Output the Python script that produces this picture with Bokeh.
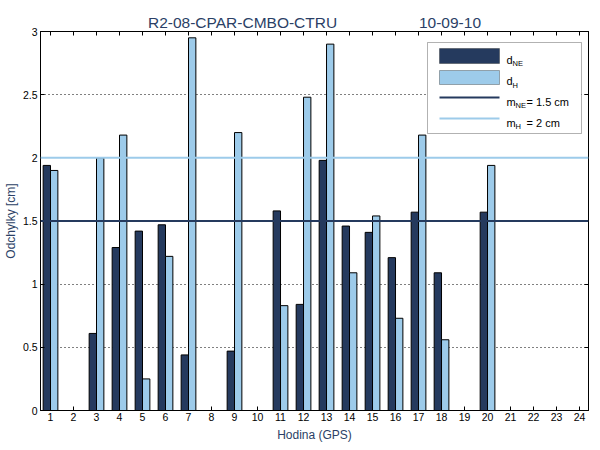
import numpy as np
from bokeh.plotting import figure
from bokeh.models import (ColumnDataSource, FixedTicker, LinearAxis, Span, Label,
                          BoxAnnotation, Range1d)
from bokeh.transform import dodge
from bokeh.embed import file_html
from bokeh.resources import INLINE

nan = float("nan")

# ---- data ----
hours = list(range(1, 25))
d_ne = [1.94, nan, 0.61, 1.29, 1.42, 1.47, 0.44, nan, 0.47, nan, 1.58, 0.84,
        1.98, 1.46, 1.41, 1.21, 1.57, 1.09, nan, 1.57, nan, nan, nan, nan]
d_h = [1.90, nan, 2.00, 2.18, 0.25, 1.22, 2.95, nan, 2.20, nan, 0.83, 2.48,
       2.90, 1.09, 1.54, 0.73, 2.18, 0.56, nan, 1.94, nan, nan, nan, nan]
m_ne = 1.5
m_h = 2.0
y_ticks = [0, 0.5, 1, 1.5, 2, 2.5, 3]
y_tick_labels = ["0", "0.5", "1", "1.5", "2", "2.5", "3"]
x_tick_labels = [str(h) for h in hours]
title_left = "R2-08-CPAR-CMBO-CTRU"
title_right = "10-09-10"
x_label = "Hodina (GPS)"
y_label = "Odchylky [cm]"

# ---- styles ----
DARK = "#253A5E"
LIGHT = "#9DCBEA"
TEXT_BLUE = "#2B3F66"
FONT = "Liberation Sans"
NBSP = "\u00a0"

src = ColumnDataSource(dict(hour=hours, d_ne=d_ne, d_h=d_h))

p = figure(frame_width=548, frame_height=379,
           x_range=Range1d(0.565, 24.39), y_range=Range1d(0, 3),
           output_backend="svg", toolbar_location=None,
           min_border_left=40, min_border_right=12,
           min_border_top=31, min_border_bottom=40)

p.background_fill_color = "white"
p.border_fill_color = "white"
p.outline_line_color = "black"
p.outline_line_width = 1

# title
p.title.text = title_left + NBSP * 19 + title_right
p.title.align = "center"
p.title.text_font = FONT
p.title.text_font_size = "15.5px"
p.title.text_font_style = "normal"
p.title.text_color = TEXT_BLUE
p.title.standoff = 2

bw = 0.32
p.vbar(x=dodge("hour", -bw / 2, range=p.x_range), top="d_ne", width=bw,
       source=src, fill_color=DARK, line_color="black", line_width=1)
p.vbar(x=dodge("hour", bw / 2, range=p.x_range), top="d_h", width=bw,
       source=src, fill_color=LIGHT, line_color="black", line_width=1)

p.add_layout(Span(location=m_ne, dimension="width", line_color=DARK, line_width=2))
p.add_layout(Span(location=m_h, dimension="width", line_color=LIGHT, line_width=2))

# grid
p.xgrid.grid_line_color = None
p.ygrid.ticker = FixedTicker(ticks=y_ticks)
p.ygrid.grid_line_color = "black"
p.ygrid.grid_line_dash = "1 3"
p.ygrid.grid_line_width = 1

def style_axis(ax):
    ax.major_tick_in = 4
    ax.major_tick_out = 0
    ax.minor_tick_line_color = None
    ax.axis_line_color = "black"
    ax.major_label_text_font = FONT
    ax.major_label_text_font_size = "10.5px"
    ax.major_label_text_color = "black"
    ax.axis_label_text_font = FONT
    ax.axis_label_text_font_size = "12px"
    ax.axis_label_text_font_style = "normal"
    ax.axis_label_text_color = TEXT_BLUE

xa = p.xaxis[0]
style_axis(xa)
xa.ticker = FixedTicker(ticks=hours)
xa.major_label_overrides = {h: s for h, s in zip(hours, x_tick_labels)}
xa.axis_label = x_label
xa.major_label_standoff = 2
xa.axis_label_standoff = 4

ya = p.yaxis[0]
style_axis(ya)
ya.ticker = FixedTicker(ticks=y_ticks)
ya.major_label_overrides = {t: s for t, s in zip(y_ticks, y_tick_labels)}
ya.axis_label = y_label
ya.major_label_standoff = 3
ya.axis_label_standoff = 2

top_ax = LinearAxis(ticker=FixedTicker(ticks=hours))
style_axis(top_ax)
top_ax.major_label_text_color = None
top_ax.major_label_text_font_size = "0px"
top_ax.major_label_standoff = 0
p.add_layout(top_ax, "above")

right_ax = LinearAxis(ticker=FixedTicker(ticks=y_ticks))
style_axis(right_ax)
right_ax.major_label_text_color = None
right_ax.major_label_text_font_size = "0px"
right_ax.major_label_standoff = 0
p.add_layout(right_ax, "right")

# ---- custom legend (canvas pixel units) ----
def box(l, r, t, b, fill, line="black", lw=1):
    p.add_layout(BoxAnnotation(left=l, right=r, top=t, bottom=b,
                               left_units="canvas", right_units="canvas",
                               top_units="canvas", bottom_units="canvas",
                               fill_color=fill, fill_alpha=1.0,
                               line_color=line, line_width=lw, level="overlay"))

def txt(x, y, s, size):
    p.add_layout(Label(x=x, y=y, x_units="canvas", y_units="canvas", text=s,
                       text_font=FONT, text_font_size=size, text_color="black",
                       text_baseline="alphabetic", text_align="left", level="overlay"))

box(427, 581, 42, 133, "white")
box(439, 499, 48, 63, DARK)
box(439, 499, 70, 84, LIGHT)
box(439, 499, 96, 98, DARK, line=None)
box(439, 499, 117, 119, LIGHT, line=None)

txt(506, 59, "d", "11px")
txt(512, 63, "NE", "7.5px")
txt(506, 80, "d", "11px")
txt(512, 84.5, "H", "7.5px")
txt(506, 101, "m", "11px")
txt(515, 105, "NE", "7.5px")
txt(526, 101, "= 1.5 cm", "11px")
txt(506, 122, "m", "11px")
txt(515, 126, "H", "7.5px")
txt(526, 122, "= 2 cm", "11px")

open("out.html", "w").write(file_html(p, INLINE))
